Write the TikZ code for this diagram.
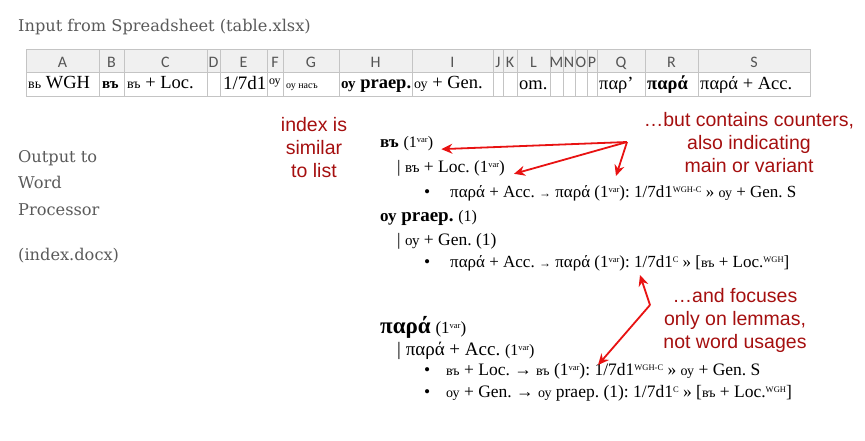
\documentclass[tikz,border=0pt]{standalone}
\usepackage{fontspec}
\setmainfont{Liberation Serif}
\newfontfamily\titlefont{DejaVu Serif}
\newfontfamily\annfont{Liberation Sans}
\newfontfamily\hdrfont{Carlito}
\usetikzlibrary{arrows.meta}
\definecolor{anncol}{HTML}{A50F0F}
\definecolor{arrcol}{HTML}{E81212}
\definecolor{titlecol}{HTML}{5A5A5A}
\definecolor{gridcol}{HTML}{C4C4C4}
\definecolor{hdrfill}{HTML}{F0F0F0}
\definecolor{hdrtext}{HTML}{555555}
\newcommand\sz[1]{\fontsize{#1}{#1}\selectfont}
\newcommand\supv[1]{\raisebox{0.6ex}{\sz{8.5}#1}}
\frenchspacing
\begin{document}
\begin{tikzpicture}[x=1pt,y=-1pt,
  titletext/.style={anchor=base west, inner sep=0, font=\titlefont\sz{16.2}, text=titlecol},
  ann/.style={align=center, font=\annfont\fontsize{19.5}{23}\selectfont, text=anncol, inner sep=0},
  hdr/.style={font=\hdrfont\sz{16}, text=hdrtext, inner sep=0, anchor=base},
  cell/.style={font=\sz{18.5}, inner sep=0, anchor=base west},
  idx/.style={font=\sz{17.5}, inner sep=0, anchor=base west},
  idxhead/.style={font=\sz{19}, inner sep=0, anchor=base west},
  redarrow/.style={draw=arrcol, line width=1.8pt, -{Stealth[length=11pt,width=10pt]}}]
\useasboundingbox (0,0) rectangle (865,440);

% titles
\node[titletext] (tin) at (18,31) {Input from Spreadsheet (table.xlsx)};
\node[titletext] (tout1) at (18,162) {Output to};
\node[titletext] (tout2) at (18,188) {Word};
\node[titletext] (tout3) at (18,215) {Processor};
\node[titletext] (tout4) at (18,260) {(index.docx)};

% table
\fill[hdrfill] (26,49) rectangle (810,72);
\draw[gridcol] (26,49) rectangle (810,96);
\draw[gridcol] (26,72) -- (810,72);
\foreach \x in {99,124,207,220,267,283,339,412,493,503,517,550,563,575,587,597,645,698}
  \draw[gridcol] (\x,49) -- (\x,96);
\foreach \a/\b/\l in {26/99/A,99/124/B,124/207/C,207/220/D,220/267/E,267/283/F,283/339/G,339/412/H,412/493/I,493/503/J,503/517/K,517/550/L,550/563/M,563/575/N,575/587/O,587/597/P,597/645/Q,645/698/R,698/810/S}
  \node[hdr] (h\l) at ({(\a+\b)/2},67) {\l};

\node[cell] (cA) at (28,88) {{\sz{14}вь} WGH};
\node[cell] (cB) at (102,88) {{\sz{15}\bfseries въ}};
\node[cell] (cC) at (127,88) {{\sz{14}въ} + Loc.};
\node[cell, font=\sz{19}] (cE) at (223,89) {1/7d1};
\node[cell] (cF) at (269,84) {{\sz{12}оу}};
\node[cell] (cG) at (286,88) {{\sz{10}оу насъ}};
\node[cell] (cH) at (341,88) {{\bfseries{\sz{15}оу} praep.}};
\node[cell] (cI) at (414,88) {{\sz{14}оу} + Gen.};
\node[cell] (cL) at (519,89) {om.};
\node[cell] (cQ) at (599,89) {παρ’};
\node[cell] (cR) at (647,89) {\bfseries παρά};
\node[cell] (cS) at (700,89) {παρά + Acc.};

% annotations
\node[ann] (a1) at (314,148) {index is\\similar\\to list};
\node[ann] (a2) at (749,143) {…but contains counters,\\also indicating\\main or variant};
\node[ann] (a3) at (735,320) {…and focuses\\only on lemmas,\\not word usages};

% index
\node[idxhead] (i1) at (380,147) {{\bfseries\sz{17}въ} {\sz{16}(1\supv{var})}};
\node[idx] (i2) at (397,172) {| {\sz{15}въ} + Loc. {\sz{17}(1\supv{var})}};
\node[idx] (b3) at (424,197) {•};
\node[idx, font=\sz{17}] (i3) at (450,197) {παρά + Acc. {\sz{12}→} παρά (1\supv{var}): 1/7d1\supv{WGH-C} » {\sz{14}оу} + Gen. S};
\node[idxhead] (i4) at (380,221) {{\bfseries{\sz{17}оу} praep.} {\sz{16}(1)}};
\node[idx] (i5) at (397,245) {| {\sz{15}оу} + Gen. (1)};
\node[idx] (b6) at (424,267) {•};
\node[idx, font=\sz{17}] (i6) at (450,267) {παρά + Acc. {\sz{12}→} παρά (1\supv{var}): 1/7d1\supv{C} » [{\sz{14}въ} + Loc.\supv{WGH}]};
\node[idxhead] (i7) at (380,333) {{\bfseries\sz{23}παρά} {\sz{17}(1\supv{var})}};
\node[idx, font=\sz{19}] (i8) at (397,355) {| παρά + Acc. {\sz{16}(1\supv{var})}};
\node[idx] (b9) at (424,375) {•};
\node[idx, font=\sz{17.5}] (i9) at (446,375) {{\sz{14}въ} + Loc. → {\sz{14}въ} (1\supv{var}): 1/7d1\supv{WGH-C} » {\sz{14}оу} + Gen. S};
\node[idx] (b10) at (424,397) {•};
\node[idx, font=\sz{17.5}] (i10) at (446,397) {{\sz{14}оу} + Gen. → {\sz{14}оу} praep. (1): 1/7d1\supv{C} » [{\sz{14}въ} + Loc.\supv{WGH}]};

% arrows
\coordinate (j1) at (627,142);
\coordinate (t3) at (616,176);
\draw[redarrow] (j1) -- ([xshift=8pt,yshift=-6pt]i1.east);
\draw[redarrow] (j1) -- ([xshift=9pt,yshift=-6pt]i2.east);
\draw[redarrow] (j1) -- (t3);
\coordinate (j2) at (650,305);
\coordinate (t4) at (640,275);
\coordinate (t5) at (598,365);
\draw[redarrow] (j2) -- (t4);
\draw[redarrow] (j2) -- (t5);
\end{tikzpicture}
\end{document}
